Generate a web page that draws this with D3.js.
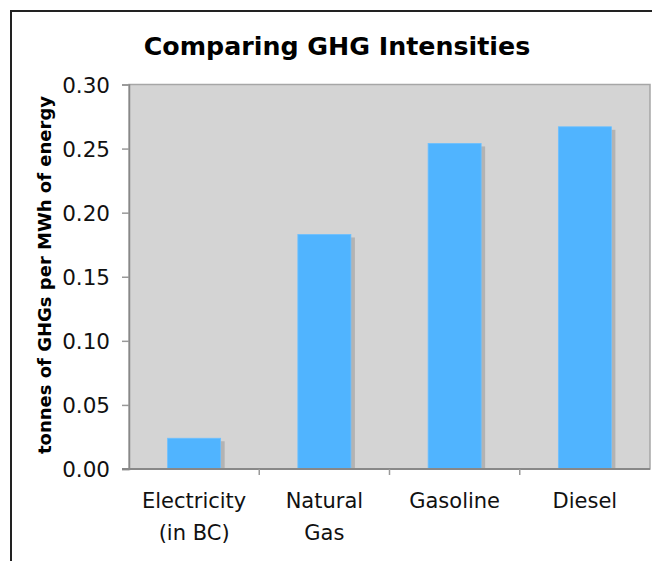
<!DOCTYPE html>
<html><head><meta charset="utf-8">
<script src="https://cdn.jsdelivr.net/npm/d3@7"></script>
<style>html,body{margin:0;padding:0;background:#fff;}svg{display:block;}</style>
</head><body>
<script>
const categories = [["Electricity","(in BC)"],["Natural","Gas"],["Gasoline"],["Diesel"]];
const categoryKeys = ["Electricity (in BC)","Natural Gas","Gasoline","Diesel"];
const values = [0.024, 0.183, 0.254, 0.267];
const yTicks = [0, 0.05, 0.10, 0.15, 0.20, 0.25, 0.30];
const title = "Comparing GHG Intensities";
const yLabel = "tonnes of GHGs per MWh of energy";

const W = 652, H = 561;
const m = {left:129, right:650, top:84.5, bottom:469};
const svg = d3.select("body").append("svg").attr("width",W).attr("height",H);
const font = "'DejaVu Sans', Verdana, sans-serif";

// outer frame
svg.append("line").attr("x1",11).attr("x2",11).attr("y1",10).attr("y2",H).attr("stroke","#222").attr("stroke-width",2);
svg.append("line").attr("x1",10).attr("x2",W).attr("y1",11).attr("y2",11).attr("stroke","#222").attr("stroke-width",2);

const x = d3.scaleBand().domain(categoryKeys).range([m.left, m.right]).paddingInner(0).paddingOuter(0);
const y = d3.scaleLinear().domain([0,0.30]).range([m.bottom, m.top]);

// plot area
svg.append("rect").attr("x",m.left).attr("y",m.top).attr("width",m.right-m.left).attr("height",m.bottom-m.top)
  .attr("fill","#d4d4d4").attr("stroke","#a6a6a6").attr("stroke-width",1.5);

const bw = x.bandwidth()*0.407;
const g = svg.append("g");
// shadows
g.selectAll("rect.sh").data(values).join("rect").attr("class","sh")
  .attr("x",(d,i)=>x(categoryKeys[i]) + (x.bandwidth()-bw)/2 + 4)
  .attr("y",d=>y(d)+3).attr("width",bw).attr("height",d=>m.bottom - y(d) - 3)
  .attr("fill","#b3b3b3");
g.selectAll("rect.bar").data(values).join("rect").attr("class","bar")
  .attr("x",(d,i)=>x(categoryKeys[i]) + (x.bandwidth()-bw)/2)
  .attr("y",d=>y(d)).attr("width",bw).attr("height",d=>m.bottom - y(d))
  .attr("fill","#50b4ff").attr("stroke","#6cc0ff").attr("stroke-width",0.8);

// y axis
const yAxis = d3.axisLeft(y).tickValues(yTicks).tickFormat(d3.format(".2f")).tickSize(7).tickPadding(12);
const ya = svg.append("g").attr("transform",`translate(${m.left},0)`).call(yAxis);
ya.select(".domain").attr("stroke","#888").attr("stroke-width",1.5);
ya.selectAll(".tick line").attr("stroke","#999").attr("stroke-width",1.5);
ya.selectAll(".tick text").attr("font-family",font).attr("font-size",21.5).attr("fill","#111").attr("dy","0.36em");

// x axis
const xa = svg.append("g").attr("transform",`translate(0,${m.bottom})`);
xa.append("line").attr("x1",m.left-7).attr("x2",m.right).attr("y1",0).attr("y2",0).attr("stroke","#888").attr("stroke-width",2);
const bounds = categoryKeys.map(k=>x(k)).concat([m.right]);
xa.selectAll("line.tk").data(bounds.slice(1,4)).join("line").attr("class","tk")
  .attr("x1",d=>d).attr("x2",d=>d).attr("y1",0).attr("y2",6).attr("stroke","#999").attr("stroke-width",1.5);
categories.forEach((lines,i)=>{
  const cx = x(categoryKeys[i]) + x.bandwidth()/2;
  const t = xa.append("text").attr("text-anchor","middle").attr("font-family",font).attr("font-size",21).attr("fill","#111");
  lines.forEach((l,j)=>t.append("tspan").attr("x",cx).attr("y",39 + j*32).text(l));
});

// title
svg.append("text").attr("x",337).attr("y",55).attr("text-anchor","middle").attr("font-family",font)
  .attr("font-weight","bold").attr("font-size",25.3).attr("fill","#000").text(title);

// y label
svg.append("text").attr("transform",`translate(51,275) rotate(-90)`).attr("text-anchor","middle")
  .attr("font-family",font).attr("font-weight","bold").attr("font-size",18).attr("fill","#000").text(yLabel);
</script>
</body></html>
